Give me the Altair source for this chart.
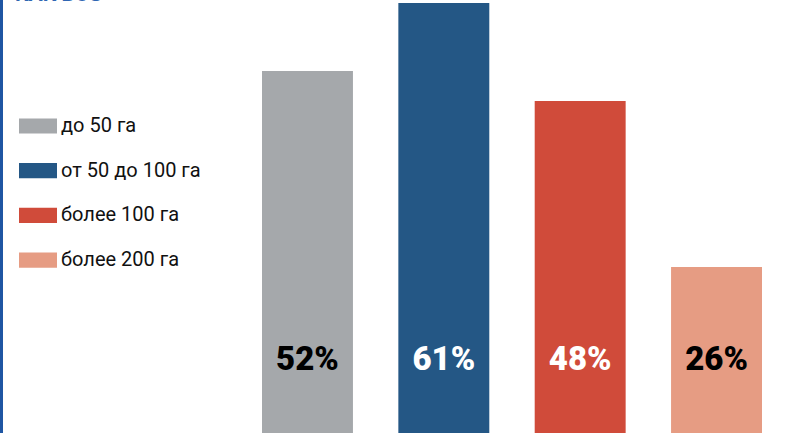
import altair as alt
import pandas as pd

categories = ["до 50 га", "от 50 до 100 га", "более 100 га", "более 200 га"]
values = [52, 61, 48, 26]
labels = ["52%", "61%", "48%", "26%"]
label_colors = ["#000000", "#ffffff", "#ffffff", "#000000"]
bar_colors = ["#A5A8AB", "#245785", "#D04B3A", "#E69C83"]
title_fragment = "КАК ВОЗ"

df = pd.DataFrame({"cat": categories, "value": values, "label": labels, "lc": label_colors})

W, H = 799, 433

x = alt.X("cat:N", sort=categories, axis=None,
          scale=alt.Scale(range=[262, 762], paddingInner=0.333, paddingOuter=0))
y = alt.Y("value:Q", axis=None, scale=alt.Scale(domain=[4, 61.4], zero=False))

bars = alt.Chart(df).mark_bar(clip=True).encode(
    x=x,
    y=y,
    color=alt.Color(
        "cat:N", sort=categories,
        scale=alt.Scale(domain=categories, range=bar_colors),
        legend=alt.Legend(
            orient="none", legendX=19, legendY=107, direction="vertical",
            title=None, symbolType="M-1,-0.4H1V0.4H-1Z", symbolSize=1444,
            symbolStrokeWidth=0, symbolOpacity=1,
            labelFont="Roboto",
            labelFontSize=20, labelColor="#111111", rowPadding=15.7,
            padding=0, labelOffset=4, labelLimit=300,
        ),
    ),
)

text = alt.Chart(df).mark_text(
    font="Roboto", fontWeight=900, fontSize=33, baseline="middle", align="center"
).encode(
    x=alt.X("cat:N", sort=categories, axis=None,
            scale=alt.Scale(range=[262, 762], paddingInner=0.333, paddingOuter=0),
            bandPosition=0.5),
    y=alt.value(360),
    text="label:N",
    color=alt.Color("lc:N", scale=None),
)

edge = alt.Chart(pd.DataFrame({"a": [0]})).mark_rule(color="#1f56a3", strokeWidth=3).encode(
    x=alt.value(1.5), y=alt.value(0), y2=alt.value(H + 3)
)

title = alt.Chart(pd.DataFrame({"t": [title_fragment]})).mark_text(
    font="Roboto", fontWeight="bold", fontSize=21, align="left",
    baseline="alphabetic", color="#2f66b3"
).encode(text="t:N", x=alt.value(15), y=alt.value(1))

chart = alt.layer(bars, text, edge, title).properties(
    width=W, height=H, padding=0, autosize="none"
).configure_view(stroke=None)

chart.save("out.html", embed_options={"renderer": "svg", "actions": False})
